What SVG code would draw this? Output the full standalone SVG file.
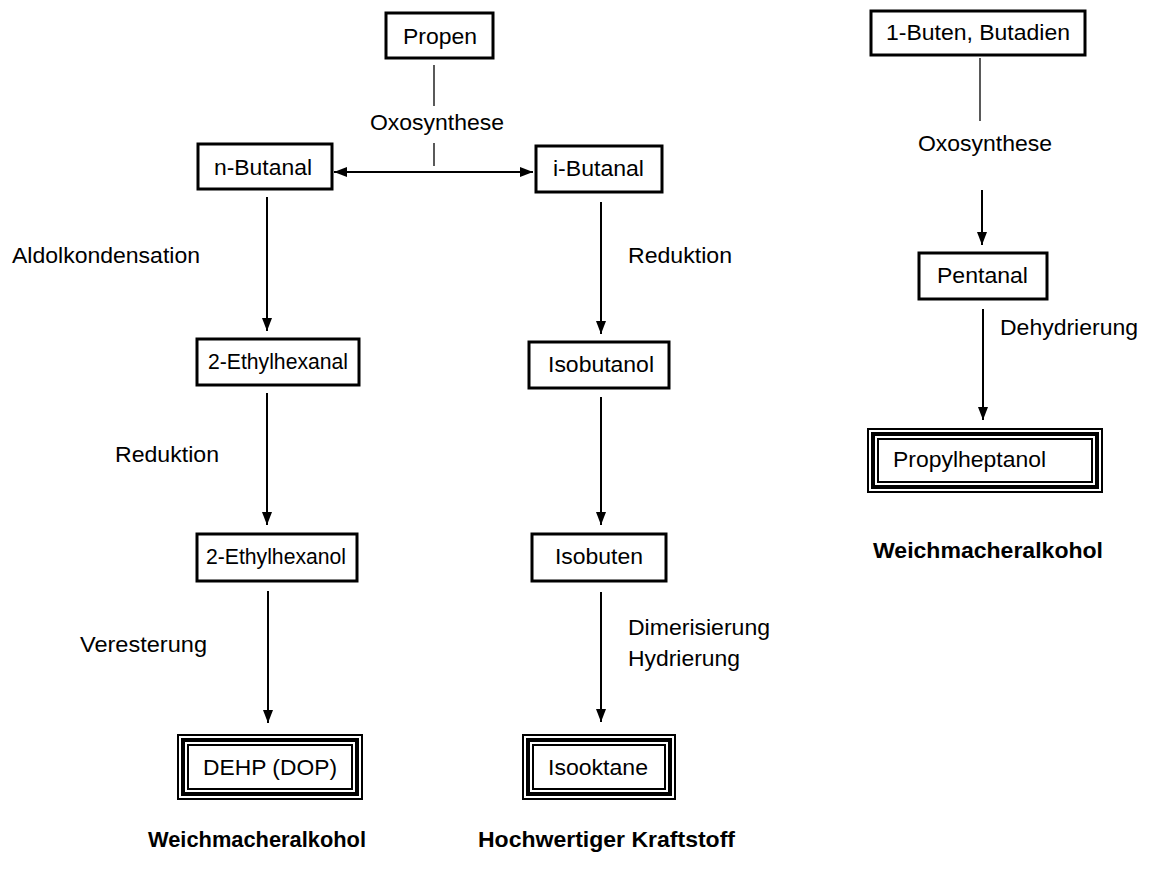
<svg xmlns="http://www.w3.org/2000/svg" width="1151" height="878" viewBox="0 0 1151 878">
<style>
text{font-family:"Liberation Sans",Arial,sans-serif;font-size:22px;fill:#000}
.b{font-weight:bold}
.box{fill:#fff;stroke:#000;stroke-width:3}
.t1{fill:none;stroke:#000;stroke-width:2}
.t2{fill:none;stroke:#000;stroke-width:4}
.ln{stroke:#000;stroke-width:2;fill:none}
.thin{stroke:#000;stroke-width:1.3;fill:none}
</style>
<defs>
<marker id="ah" viewBox="0 0 13 10" refX="13" refY="5" markerWidth="13" markerHeight="10" markerUnits="userSpaceOnUse" orient="auto-start-reverse">
<path d="M0,0 L13,5 L0,10 Z" fill="#000"/>
</marker>
</defs>
<rect width="1151" height="878" fill="#fff"/>
<g id="connectors">
<line class="thin" x1="434" y1="65" x2="434" y2="106"/>
<line class="thin" x1="434" y1="143" x2="434" y2="166"/>
<line class="ln" x1="334" y1="172" x2="533" y2="172" marker-start="url(#ah)" marker-end="url(#ah)"/>
<line class="ln" x1="267" y1="197" x2="267" y2="331" marker-end="url(#ah)"/>
<line class="ln" x1="267" y1="393" x2="267" y2="525" marker-end="url(#ah)"/>
<line class="ln" x1="268" y1="591" x2="268" y2="723" marker-end="url(#ah)"/>
<line class="ln" x1="601" y1="202" x2="601" y2="334" marker-end="url(#ah)"/>
<line class="ln" x1="601" y1="397" x2="601" y2="525" marker-end="url(#ah)"/>
<line class="ln" x1="601" y1="592" x2="601" y2="722" marker-end="url(#ah)"/>
<line class="thin" x1="980" y1="58" x2="980" y2="121"/>
<line class="ln" x1="982" y1="190" x2="982" y2="245" marker-end="url(#ah)"/>
<line class="ln" x1="983" y1="309" x2="983" y2="420" marker-end="url(#ah)"/>
</g>
<g id="propen"><rect class="box" x="386" y="13" width="107" height="45"/><text x="403" y="44" textLength="74" lengthAdjust="spacingAndGlyphs">Propen</text></g>
<g id="oxo1"><text x="370" y="130" textLength="134" lengthAdjust="spacingAndGlyphs">Oxosynthese</text></g>
<g id="nbutanal"><rect class="box" x="198" y="144" width="134" height="45"/><text x="214" y="175" textLength="98" lengthAdjust="spacingAndGlyphs">n-Butanal</text></g>
<g id="ibutanal"><rect class="box" x="536" y="146" width="126" height="46"/><text x="553" y="176" textLength="91" lengthAdjust="spacingAndGlyphs">i-Butanal</text></g>
<g id="aldol"><text x="12" y="263" textLength="188" lengthAdjust="spacingAndGlyphs">Aldolkondensation</text></g>
<g id="red1"><text x="628" y="263" textLength="104" lengthAdjust="spacingAndGlyphs">Reduktion</text></g>
<g id="ethylhexanal"><rect class="box" x="197" y="339" width="162" height="46"/><text x="208" y="369" textLength="140" lengthAdjust="spacingAndGlyphs">2-Ethylhexanal</text></g>
<g id="isobutanol"><rect class="box" x="529" y="342" width="140" height="46"/><text x="548" y="372" textLength="106" lengthAdjust="spacingAndGlyphs">Isobutanol</text></g>
<g id="red2"><text x="115" y="462" textLength="104" lengthAdjust="spacingAndGlyphs">Reduktion</text></g>
<g id="ethylhexanol"><rect class="box" x="197" y="534" width="160" height="47"/><text x="206" y="564" textLength="140" lengthAdjust="spacingAndGlyphs">2-Ethylhexanol</text></g>
<g id="isobuten"><rect class="box" x="532" y="534" width="134" height="47"/><text x="555" y="564" textLength="88" lengthAdjust="spacingAndGlyphs">Isobuten</text></g>
<g id="veresterung"><text x="80" y="652" textLength="127" lengthAdjust="spacingAndGlyphs">Veresterung</text></g>
<g id="dimer"><text x="628" y="635" textLength="142" lengthAdjust="spacingAndGlyphs">Dimerisierung</text><text x="628" y="666" textLength="112" lengthAdjust="spacingAndGlyphs">Hydrierung</text></g>
<g id="dehp">
<rect class="t1" x="178" y="735" width="184" height="64"/>
<rect class="t2" x="183" y="740" width="174" height="54"/>
<rect class="t1" x="188" y="745" width="164" height="44"/>
<text x="203" y="775" textLength="134" lengthAdjust="spacingAndGlyphs">DEHP (DOP)</text>
</g>
<g id="isooktane">
<rect class="t1" x="523" y="735" width="152" height="64"/>
<rect class="t2" x="528" y="740" width="142" height="54"/>
<rect class="t1" x="533" y="745" width="132" height="44"/>
<text x="548" y="775" textLength="100" lengthAdjust="spacingAndGlyphs">Isooktane</text>
</g>
<g id="label1"><text class="b" x="148" y="847" textLength="218" lengthAdjust="spacingAndGlyphs">Weichmacheralkohol</text></g>
<g id="label2"><text class="b" x="478" y="847" textLength="257" lengthAdjust="spacingAndGlyphs">Hochwertiger Kraftstoff</text></g>
<g id="buten"><rect class="box" x="871" y="11" width="214" height="44"/><text x="886" y="40" textLength="184" lengthAdjust="spacingAndGlyphs">1-Buten, Butadien</text></g>
<g id="oxo2"><text x="918" y="151" textLength="134" lengthAdjust="spacingAndGlyphs">Oxosynthese</text></g>
<g id="pentanal"><rect class="box" x="919" y="253" width="128" height="46"/><text x="937" y="283" textLength="91" lengthAdjust="spacingAndGlyphs">Pentanal</text></g>
<g id="dehydr"><text x="1000" y="335" textLength="138" lengthAdjust="spacingAndGlyphs">Dehydrierung</text></g>
<g id="propylheptanol">
<rect class="t1" x="868" y="429" width="234" height="63"/>
<rect class="t2" x="873" y="434" width="224" height="53"/>
<rect class="t1" x="878" y="439" width="214" height="43"/>
<text x="893" y="467" textLength="153" lengthAdjust="spacingAndGlyphs">Propylheptanol</text>
</g>
<g id="label3"><text class="b" x="873" y="558" textLength="230" lengthAdjust="spacingAndGlyphs">Weichmacheralkohol</text></g>
</svg>
